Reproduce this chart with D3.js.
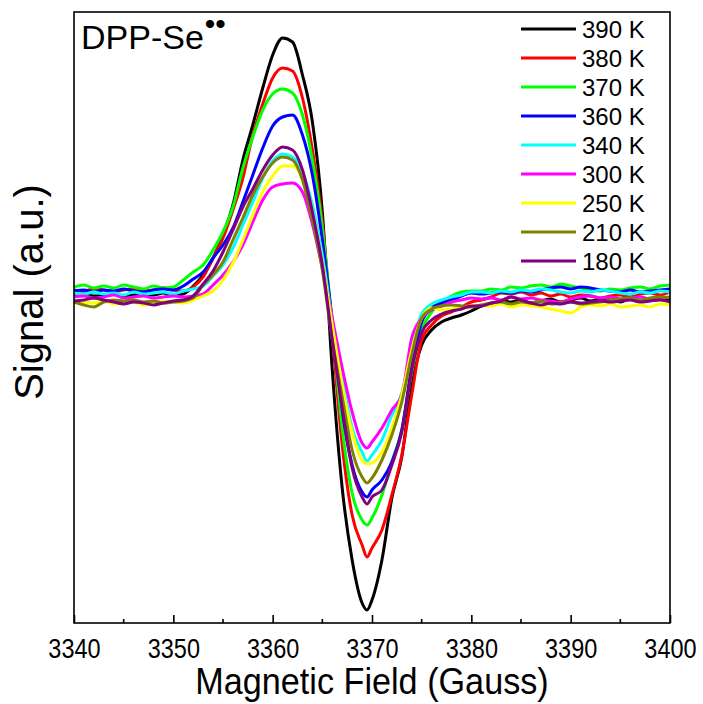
<!DOCTYPE html>
<html lang="en">
<head>
<meta charset="UTF-8">
<title>DPP-Se EPR spectra</title>
<script src="https://d3js.org/d3.v7.min.js"></script>
<style>
  body { margin: 0; background: #fff; }
  svg { display: block; }
  text { font-family: "Liberation Sans", Arial, sans-serif; fill: #000; }
</style>
</head>
<body>
<svg width="703" height="704"></svg>
<script>
// magnetic field grid (Gauss)
const field = [3340, 3341, 3342, 3343, 3344, 3345, 3346, 3347, 3348, 3349, 3350, 3351,
  3352, 3353, 3354, 3355, 3356, 3357, 3358, 3359, 3360, 3361, 3362, 3363, 3364, 3365, 3366, 3367, 3368, 3369,
  3369.5,
  3370, 3371, 3372, 3373, 3374, 3375, 3376, 3377, 3378, 3379, 3380,
  3381, 3382, 3383, 3384, 3385, 3386, 3387, 3388, 3389, 3390, 3391, 3392, 3393, 3394, 3395, 3396, 3397, 3398, 3399, 3400];

const temps = ["390 K", "380 K", "370 K", "360 K", "340 K", "300 K", "250 K", "210 K", "180 K"];
const colors = ["#000000", "#ff0000", "#00ff00", "#0000ff", "#00ffff", "#ff00ff", "#ffff00", "#808000", "#800080"];

// signal (a.u.) for each temperature
const s390 = [-2, -1, -3, -2, -1, -3, -2, -1, -2, 0, -2, -1,
  7, 18, 35, 58, 88, 133, 168, 205, 238, 255, 251, 218, 171, 81, -77, -195, -267, -310,
  -317,
  -307, -267, -205, -164, -92, -52, -37, -29, -25, -22, -18,
  -13, -11, -8, -9, -7, -10, -8, -6, -9, -7, -5, -8, -6, -7, -9, -6, -8, -7, -5, -7];
const s380 = [3, 2, 4, 3, 1, 3, 4, 2, 3, 5, 3, 2,
  6, 16, 35, 55, 83, 115, 158, 189, 215, 225, 222, 195, 143, 71, -42, -152, -222, -252,
  -264,
  -255, -237, -202, -162, -102, -47, -32, -23, -19, -14, -9,
  -7, -4, 0, -1, 1, -2, 0, -3, -1, -4, -2, -3, -5, -3, -2, -4, -1, 0, -2, 1];
const s370 = [6, 8, 5, 7, 5, 8, 6, 4, 7, 5, 6, 13,
  21, 28, 43, 61, 86, 125, 156, 183, 199, 204, 200, 178, 133, 65, -32, -135, -200, -227,
  -232,
  -225, -202, -169, -137, -79, -37, -19, -10, -3, 1, 2,
  2, 4, 3, 6, 5, 7, 8, 6, 9, 7, 5, 3, 2, 4, 3, 5, 6, 4, 7, 8];
const s360 = [2, 3, 1, 3, 2, 4, 2, 1, 3, 4, 3, 7,
  14, 21, 35, 48, 65, 91, 118, 145, 167, 176, 178, 158, 118, 53, -27, -117, -172, -199,
  -204,
  -197, -187, -169, -137, -74, -29, -15, -10, -7, -3, 0,
  -1, 0, 1, 0, 2, 1, 3, 5, 6, 4, 6, 5, 3, 2, 1, 3, 1, 2, 3, 4];
const s340 = [0, -1, 1, -1, 0, -2, 1, -1, 0, 1, -1, 2,
  4, 7, 17, 28, 45, 68, 91, 115, 132, 139, 136, 121, 88, 38, -27, -85, -135, -159,
  -168,
  -162, -147, -122, -100, -54, -21, -11, -7, -4, -2, 1,
  1, 0, 2, 1, 3, 2, 4, 3, 1, 0, 2, 1, 3, 2, 0, -1, 1, 0, 2, 1];
const s300 = [-4, -3, -5, -4, -2, -5, -4, -3, -5, -4, -3, -4,
  -3, -1, 8, 18, 31, 48, 71, 93, 106, 109, 110, 101, 69, 25, -25, -75, -119, -150,
  -155,
  -149, -135, -117, -102, -45, -25, -17, -13, -9, -7, -5,
  -6, -5, -7, -4, -6, -5, -7, -8, -9, -6, -4, -3, -5, -4, -6, -5, -4, -6, -5, -4];
const s250 = [-7, -9, -10, -8, -11, -10, -9, -12, -10, -8, -9, -10,
  -7, -3, 2, 13, 30, 53, 78, 101, 117, 127, 127, 115, 81, 31, -32, -92, -139, -167,
  -171,
  -170, -159, -135, -102, -57, -25, -15, -17, -16, -14, -13,
  -12, -13, -11, -14, -12, -13, -14, -16, -18, -20, -14, -12, -13, -11, -14, -13, -12, -14, -11, -12];
const s210 = [-9, -12, -14, -9, -7, -8, -7, -9, -8, -10, -9, -8,
  -5, 8, 18, 31, 53, 75, 98, 116, 130, 136, 133, 113, 73, 23, -47, -104, -157, -184,
  -190,
  -185, -167, -142, -109, -62, -25, -16, -13, -12, -13, -14,
  -12, -10, -9, -11, -9, -10, -8, -11, -10, -9, -11, -10, -9, -7, -6, -5, -7, -5, -4, -5];
const s180 = [-8, -7, -5, -7, -9, -11, -9, -10, -12, -10, -8, -7,
  -3, 9, 22, 41, 63, 86, 104, 123, 138, 146, 143, 123, 81, 28, -47, -115, -175, -204,
  -211,
  -204, -197, -172, -139, -77, -40, -27, -21, -18, -16, -13,
  -13, -10, -8, -4, -7, -10, -12, -10, -11, -9, -10, -9, -8, -9, -8, -7, -9, -8, -7, -9];

const signals = [s390, s380, s370, s360, s340, s300, s250, s210, s180];
const xTicks = [3340, 3350, 3360, 3370, 3380, 3390, 3400];

const svg = d3.select("svg");
const plotL = 74, plotR = 670, plotT = 12, plotB = 623;

const x = d3.scaleLinear().domain([3340, 3400]).range([plotL, plotR]);
const y = d3.scaleLinear().domain([-330, 281]).range([plotB, plotT]);

// curves (first listed drawn first, 180 K ends up on top)
const line = d3.line()
  .x((d, i) => x(field[i]))
  .y(d => y(d))
  .curve(d3.curveMonotoneX);

svg.append("g")
  .selectAll("path")
  .data(signals)
  .join("path")
  .attr("d", d => line(d))
  .attr("fill", "none")
  .attr("stroke", (d, i) => colors[i])
  .attr("stroke-width", 3)
  .attr("stroke-linejoin", "round");

// frame
svg.append("rect")
  .attr("x", plotL).attr("y", plotT)
  .attr("width", plotR - plotL).attr("height", plotB - plotT)
  .attr("fill", "none").attr("stroke", "#000").attr("stroke-width", 1.6);

// bottom axis, ticks pointing inward
const xAxis = d3.axisBottom(x)
  .tickValues(xTicks)
  .tickFormat(d3.format("d"))
  .tickSizeInner(-8)
  .tickSizeOuter(0)
  .tickPadding(0);

const gx = svg.append("g")
  .attr("transform", `translate(0,${plotB})`)
  .call(xAxis);
gx.select(".domain").remove();
gx.selectAll(".tick line").attr("stroke", "#000").attr("stroke-width", 1.6);
// slightly condensed tick labels, like the original
gx.selectAll(".tick text")
  .attr("y", 0)
  .attr("dy", 0)
  .attr("font-size", 28)
  .attr("font-family", "Liberation Sans, Arial, sans-serif")
  .attr("transform", "translate(0,35) scale(0.84,1)");

// minor ticks
svg.append("g")
  .selectAll("line")
  .data(d3.range(3345, 3400, 10))
  .join("line")
  .attr("x1", d => x(d)).attr("x2", d => x(d))
  .attr("y1", plotB).attr("y2", plotB - 4)
  .attr("stroke", "#000").attr("stroke-width", 1.6);

// axis titles
svg.append("text")
  .attr("transform", `translate(${(plotL + plotR) / 2},694) scale(0.95,1)`)
  .attr("text-anchor", "middle")
  .attr("font-size", 36)
  .text("Magnetic Field (Gauss)");

svg.append("text")
  .attr("transform", `translate(43,292) rotate(-90)`)
  .attr("text-anchor", "middle")
  .attr("font-size", 40)
  .text("Signal (a.u.)");

// sample label
const lab = svg.append("text")
  .attr("x", 81)
  .attr("y", 49)
  .attr("font-size", 34);
lab.append("tspan").text("DPP-Se");
lab.append("tspan").attr("font-size", 30).attr("dy", -15).attr("dx", 1).text("••");

// legend
const legend = svg.append("g")
  .selectAll("g")
  .data(temps)
  .join("g")
  .attr("transform", (d, i) => `translate(521,${29 + i * 29})`);

legend.append("line")
  .attr("x1", 0).attr("x2", 55)
  .attr("stroke", (d, i) => colors[i])
  .attr("stroke-width", 3);

legend.append("text")
  .attr("x", 61)
  .attr("dy", "0.36em")
  .attr("font-size", 24)
  .text(d => d);
</script>
</body>
</html>
